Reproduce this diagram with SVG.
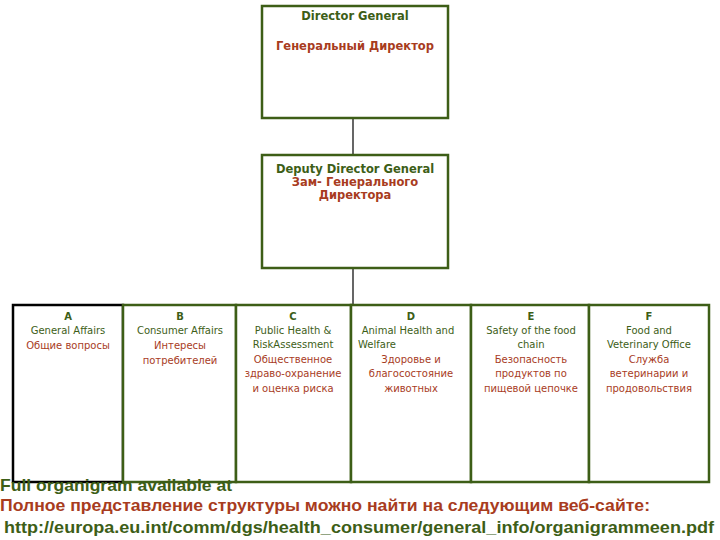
<svg xmlns="http://www.w3.org/2000/svg" width="720" height="540" viewBox="0 0 720 540">
<style>
.b{fill:#fff;stroke:#3d5e17;stroke-width:2.5}
.g{fill:#3d5e17;font-family:"DejaVu Sans",sans-serif}
.r{fill:#a83c1e;font-family:"DejaVu Sans",sans-serif}
.s{font-size:10px;text-anchor:middle}
.h{font-size:11.5px;font-weight:bold;text-anchor:middle}
.f{font-size:17px;font-weight:bold;font-family:"Liberation Sans",sans-serif}
</style>
<rect width="720" height="540" fill="#fff"/>
<g id="connectors" stroke="#000" stroke-width="1.2">
<line x1="353" y1="118" x2="353" y2="155"/>
<line x1="353" y1="268" x2="353" y2="305"/>
</g>
<g id="dg"><rect class="b" x="262" y="6" width="186" height="112"/>
<text class="g h" x="355" y="20">Director General</text>
<text class="r h" x="355" y="50">Генеральный Директор</text></g>
<g id="ddg"><rect class="b" x="262" y="155" width="186" height="113"/>
<text class="g h" x="355" y="173">Deputy Director General</text>
<text class="r h" x="355" y="186">Зам- Генерального</text>
<text class="r h" x="355" y="199">Директора</text></g>
<g id="A"><rect x="13" y="305" width="110" height="177" fill="#fff" stroke="#000" stroke-width="2.5"/>
<text class="g s" x="68" y="320" font-weight="bold">A</text>
<text class="g s" x="68" y="334">General Affairs</text>
<text class="r s" x="68" y="349">Общие вопросы</text></g>
<g id="B"><rect class="b" x="123" y="305" width="113" height="177"/>
<text class="g s" x="180" y="320" font-weight="bold">B</text>
<text class="g s" x="180" y="334">Consumer Affairs</text>
<text class="r s" x="180" y="349">Интересы</text>
<text class="r s" x="180" y="364">потребителей</text></g>
<g id="C"><rect class="b" x="236" y="305" width="115" height="177"/>
<text class="g s" x="293" y="320" font-weight="bold">C</text>
<text class="g s" x="293" y="334">Public Health &amp;</text>
<text class="g s" x="293" y="348">RiskAssessment</text>
<text class="r s" x="293" y="363">Общественное</text>
<text class="r s" x="293" y="377">здраво-охранение</text>
<text class="r s" x="293" y="392">и оценка риска</text></g>
<g id="D"><rect class="b" x="351" y="305" width="120" height="177"/>
<text class="g s" x="411" y="320" font-weight="bold">D</text>
<text class="g s" x="408" y="334">Animal Health and</text>
<text class="g" x="358" y="348" font-size="10">Welfare</text>
<text class="r s" x="411" y="363">Здоровье и</text>
<text class="r s" x="411" y="377">благосостояние</text>
<text class="r s" x="411" y="392">животных</text></g>
<g id="E"><rect class="b" x="471" y="305" width="118" height="177"/>
<text class="g s" x="531" y="320" font-weight="bold">E</text>
<text class="g s" x="531" y="334">Safety of the food</text>
<text class="g s" x="531" y="348">chain</text>
<text class="r s" x="531" y="363">Безопасность</text>
<text class="r s" x="531" y="377">продуктов по</text>
<text class="r s" x="531" y="392">пищевой цепочке</text></g>
<g id="F"><rect class="b" x="589" y="305" width="120" height="177"/>
<text class="g s" x="649" y="320" font-weight="bold">F</text>
<text class="g s" x="649" y="334">Food and</text>
<text class="g s" x="649" y="348">Veterinary Office</text>
<text class="r s" x="649" y="363">Служба</text>
<text class="r s" x="649" y="377">ветеринарии и</text>
<text class="r s" x="649" y="392">продовольствия</text></g>
<g id="footer">
<text class="g f" x="0" y="491" textLength="232" lengthAdjust="spacingAndGlyphs">Full organigram available at</text>
<text class="r f" x="0" y="511" textLength="650" lengthAdjust="spacingAndGlyphs">Полное представление структуры можно найти на следующим веб-сайте:</text>
<text class="g f" x="4" y="533" font-size="16" textLength="710" lengthAdjust="spacingAndGlyphs">http://europa.eu.int/comm/dgs/health_consumer/general_info/organigrammeen.pdf</text>
</g>
</svg>
